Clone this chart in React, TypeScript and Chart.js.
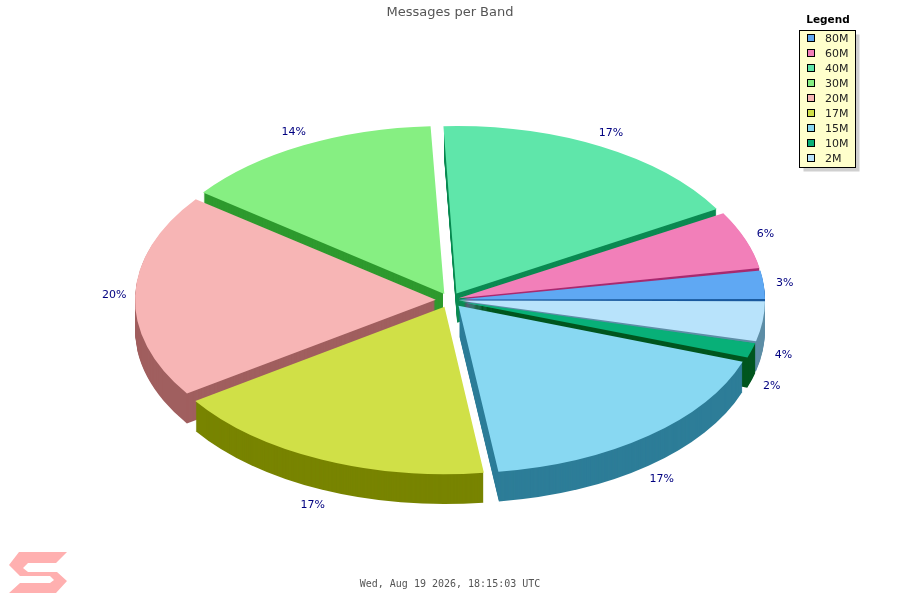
import React, { useEffect, useRef } from "react";
import { Chart, registerables } from "chart.js";

Chart.register(...registerables);

// Clockwise from 3 o'clock, as the chart library draws them.
const bands = ["2M", "10M", "15M", "17M", "20M", "30M", "40M", "60M", "80M"];
const shares = [39, 15, 175, 176, 198, 140, 173, 56, 28];
const percentLabels = ["4%", "2%", "17%", "17%", "20%", "14%", "17%", "6%", "3%"];
const topColors = ["#b8e3fb", "#08b078", "#88d8f2", "#d0e047", "#f7b5b5", "#86ef82", "#5fe6aa", "#f27fb9", "#5fa8f3"];
const wallColors = ["#5e8ea6", "#00561f", "#2d7d98", "#788400", "#a05f5f", "#2e9a2e", "#0b8a52", "#a82a70", "#1a5a9e"];
const chartTitle = "Messages per Band";
const footerText = "Wed, Aug 19 2026, 18:15:03 UTC";

const SCREEN_X = 450;
const SCREEN_Y = 300;
const TILT = 0.555;
const DEPTH = 30;
const EXPLODE = 15;
const RADIUS = 300;
const total = shares.reduce((a, b) => a + b, 0);

// ArcElement moves a slice by offset/4 * (1 + fix); solve for a constant shift.
function offsetFor(value: number) {
  const c = (2 * Math.PI * value) / total;
  const fix = 1 - Math.sin(Math.min(Math.PI, c));
  return (4 * EXPLODE) / (1 + fix);
}

const piePlugin = {
  id: "pie3d",
  beforeDatasetsDraw(chart: any) {
    const ctx = chart.ctx;
    const arcs = chart.getDatasetMeta(0).data;
    const { x, y } = arcs[0];
    ctx.save();
    ctx.translate(SCREEN_X, SCREEN_Y);
    ctx.scale(1, TILT);
    ctx.translate(-x, -y);
    const order = arcs
      .map((arc: any, i: number) => ({ arc, i, mid: (arc.startAngle + arc.endAngle) / 2 }))
      .sort((a: any, b: any) => Math.sin(a.mid) - Math.sin(b.mid));
    for (const { arc, i, mid } of order) {
      const ax = arc.x + Math.cos(mid) * EXPLODE;
      const ay = arc.y + Math.sin(mid) * EXPLODE;
      ctx.fillStyle = wallColors[i];
      for (let d = DEPTH; d >= 1; d--) {
        const oy = d / TILT;
        ctx.beginPath();
        ctx.moveTo(ax, ay + oy);
        ctx.arc(ax, ay + oy, arc.outerRadius, arc.startAngle, arc.endAngle);
        ctx.closePath();
        ctx.fill();
      }
    }
  },
  afterDatasetsDraw(chart: any) {
    chart.ctx.restore();
  },
  afterDraw(chart: any) {
    const ctx = chart.ctx;
    const arcs = chart.getDatasetMeta(0).data;
    ctx.save();
    // percent labels
    ctx.font = "11px 'DejaVu Sans'";
    ctx.fillStyle = "#000080";
    ctx.textAlign = "center";
    ctx.textBaseline = "middle";
    arcs.forEach((arc: any, i: number) => {
      const mid = (arc.startAngle + arc.endAngle) / 2;
      const sin = Math.sin(mid);
      const lx = SCREEN_X + 336 * Math.cos(mid);
      const ly = SCREEN_Y + 190 * sin + (sin > 0 ? DEPTH + 1.5 : 0);
      ctx.fillText(percentLabels[i], lx, ly);
    });
    // legend
    const left = 799.5, top = 30.5, w = 56, h = 137;
    ctx.fillStyle = "#d0d0d0";
    ctx.fillRect(left + 4, top + 4, w, h);
    ctx.fillStyle = "#ffffcc";
    ctx.fillRect(left, top, w, h);
    ctx.strokeStyle = "#000000";
    ctx.lineWidth = 1;
    ctx.strokeRect(left, top, w, h);
    ctx.fillStyle = "#000000";
    ctx.font = "bold 10.5px 'DejaVu Sans'";
    ctx.textAlign = "center";
    ctx.fillText("Legend", 828, 20);
    ctx.font = "11px 'DejaVu Sans'";
    ctx.textAlign = "left";
    for (let row = 0; row < bands.length; row++) {
      const i = bands.length - 1 - row;
      const cy = 38 + row * 15;
      ctx.fillStyle = topColors[i];
      ctx.fillRect(807.5, cy - 3.5, 7, 7);
      ctx.strokeStyle = "#000000";
      ctx.strokeRect(807.5, cy - 3.5, 7, 7);
      ctx.fillStyle = "#222222";
      ctx.fillText(bands[i], 825, cy + 1);
    }
    // watermark
    const mark = [[19,552],[67,552],[56,563],[28,563],[23,568],[28,572],[57,572],[67,581],[56,593],[9,593],[20,583],[50,583],[54,580],[50,576],[20,576],[9,565]];
    ctx.fillStyle = "#ffb0b0";
    ctx.beginPath();
    mark.forEach(([mx, my], n) => (n ? ctx.lineTo(mx, my) : ctx.moveTo(mx, my)));
    ctx.closePath();
    ctx.fill();
    ctx.restore();
  },
};

export default function App() {
  const ref = useRef<HTMLCanvasElement>(null);
  useEffect(() => {
    const chart = new Chart(ref.current as HTMLCanvasElement, {
      type: "pie",
      data: {
        labels: bands,
        datasets: [
          {
            data: shares,
            backgroundColor: topColors,
            borderWidth: 0,
            clip: false,
            offset: (c: any) => offsetFor(shares[c.dataIndex]),
          } as any,
        ],
      },
      options: {
        animation: false,
        responsive: false,
        rotation: 90,
        radius: RADIUS,
        layout: { padding: 0 },
        plugins: {
          legend: { display: false },
          tooltip: { enabled: false },
          title: {
            display: true,
            text: chartTitle,
            color: "#555555",
            font: { family: "'DejaVu Sans'", size: 13, weight: "normal" },
            padding: { top: 5, bottom: 4 },
          },
          subtitle: {
            display: true,
            position: "bottom",
            text: footerText,
            color: "#555555",
            font: { family: "'DejaVu Sans Mono'", size: 10, weight: "normal" },
            padding: { top: 0, bottom: 10 },
          },
        },
      } as any,
      plugins: [piePlugin],
    });
    return () => chart.destroy();
  }, []);
  return (
    <canvas
      ref={ref}
      width={900}
      height={600}
      style={{ position: "absolute", left: 0, top: 0, display: "block" }}
    />
  );
}
